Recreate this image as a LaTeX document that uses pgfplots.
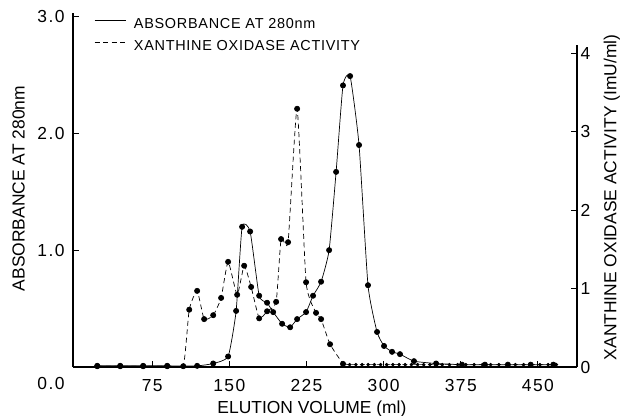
\documentclass[border=0pt]{standalone}
\usepackage{fontspec}
\setmainfont{Liberation Sans}
\usepackage{pgfplots}
\pgfplotsset{compat=1.18}

\pgfplotsset{
  refaxis/.style={
    scale only axis, width=504bp, height=354bp,
    xmin=-2, xmax=488,
    axis line style={line width=1.3pt, -},
    tick style={line width=1pt, black},
    major tick length=6bp,
    tick label style={font=\fontsize{17.5}{20}\selectfont\addfontfeatures{LetterSpace=8}},
    /pgf/number format/assume math mode=true,
    label style={font=\fontsize{17.5}{20}\selectfont},
  },
}

\begin{document}
\begin{tikzpicture}
\useasboundingbox (-73bp,-49bp) rectangle (550bp,367bp);

% right axis: xanthine oxidase activity
\begin{axis}[refaxis,
  axis x line=none, axis y line*=right, tick align=inside,
  y axis line style={shorten >=32bp},
  ymin=0, ymax=4.51, ytick={0,1,2,3,4},
  ylabel={XANTHINE OXIDASE ACTIVITY (ImU/ml)},
  ylabel style={at={(axis description cs:1.069,0.479)}, anchor=center},
]
\addplot[black, line width=0.7pt, dash pattern=on 5bp off 3.5bp, smooth, tension=0.3,
  mark=*, mark size=2.6bp, mark options={solid, fill=black}] coordinates {
  (21.6,0.01) (43.9,0.01) (66.2,0.01) (89.6,0.01) (105.2,0.01)
  (111.0,0.73) (118.7,0.97) (125.5,0.61) (134.3,0.66) (142.0,0.88)
  (148.8,1.34) (157.6,0.92) (164.4,1.29) (171.2,1.02) (179.0,0.62)
  (186.7,0.71) (195.5,0.83) (200.3,1.63) (207.1,1.59) (215.9,3.29)
  (224.6,1.08) (234.3,0.69) (239.2,0.61) (247.9,0.29) (260.5,0.04)
};
\addplot[black, line width=0.7pt, dash pattern=on 5bp off 3.5bp,
  mark=*, mark size=1.4bp, mark options={solid, fill=black}] coordinates {
  (260.5,0.04) (267,0.03) (273,0.03) (279,0.03) (285,0.03) (291,0.03)
  (297,0.03) (303,0.03) (309,0.03) (315,0.03) (321,0.03) (327,0.03)
  (333,0.03) (339,0.03) (345,0.03) (351,0.04) (357,0.03) (364,0.03)
  (372,0.03) (380,0.03) (388,0.03) (396,0.03) (404,0.03) (412,0.03)
  (420,0.03) (428,0.03) (436,0.03) (444,0.03) (452,0.03) (460,0.03)
  (468,0.03)
};
\end{axis}

% left axis: absorbance
\begin{axis}[refaxis,
  axis x line*=bottom, axis y line*=left, tick align=inside,
  ymin=0, ymax=3.03,
  xtick={75,150,...,450},
  ytick={1,2,3},
  yticklabel style={xshift=-5bp, /pgf/number format/.cd, fixed, fixed zerofill, precision=1},
  xticklabel style={anchor=base, yshift=-24bp},
  extra y ticks={0}, extra y tick labels={0.0},
  extra y tick style={major tick length=0pt, tick label style={yshift=-16bp}},
  xlabel={ELUTION VOLUME (ml)},
  xlabel style={at={(axis description cs:0.474,0)}, anchor=base, yshift=-46bp},
  ylabel={ABSORBANCE AT 280nm},
  ylabel style={at={(axis description cs:-0.108,0.504)}, anchor=center},
  legend style={at={(axis description cs:0.0417,0.986)}, anchor=north west,
    draw=none, fill=none, inner sep=0pt, column sep=8bp, row sep=8.5bp,
    font=\fontsize{14.5}{16}\selectfont\addfontfeatures{LetterSpace=5},
    nodes={inner sep=0pt, text height=10.5bp, text depth=3bp}},
  legend cell align=left,
  legend image code/.code={\draw[#1] (0bp,5bp) -- (31bp,5bp);},
]
\addplot[black, line width=0.7pt, smooth, tension=0.3,
  mark=*, mark size=2.6bp, mark options={fill=black}] coordinates {
  (21.6,0.01) (43.9,0.01) (66.2,0.01) (89.6,0.01) (118.7,0.01)
  (134.3,0.03) (148.8,0.09) (156.6,0.48) (162.4,1.20) (170.2,1.16)
  (179.0,0.61) (186.7,0.55) (192.6,0.47) (201.3,0.37) (209.1,0.34)
  (215.9,0.41) (224.6,0.47) (231.4,0.61) (239.2,0.73) (247.0,1.00)
  (253.8,1.67) (260.5,2.41) (267.4,2.49) (276.1,1.90) (284.8,0.70)
  (293.6,0.30) (300.4,0.18) (308.2,0.13) (315.9,0.11) (329.5,0.05)
  (351.0,0.03) (376.2,0.02) (398.5,0.02) (420.8,0.02) (443.0,0.02)
  (465.0,0.02)
};
\addlegendentry{ABSORBANCE AT 280nm}
\addlegendimage{black, line width=0.7pt, dash pattern=on 5bp off 3.5bp}
\addlegendentry{XANTHINE OXIDASE ACTIVITY}
\end{axis}
\end{tikzpicture}
\end{document}
